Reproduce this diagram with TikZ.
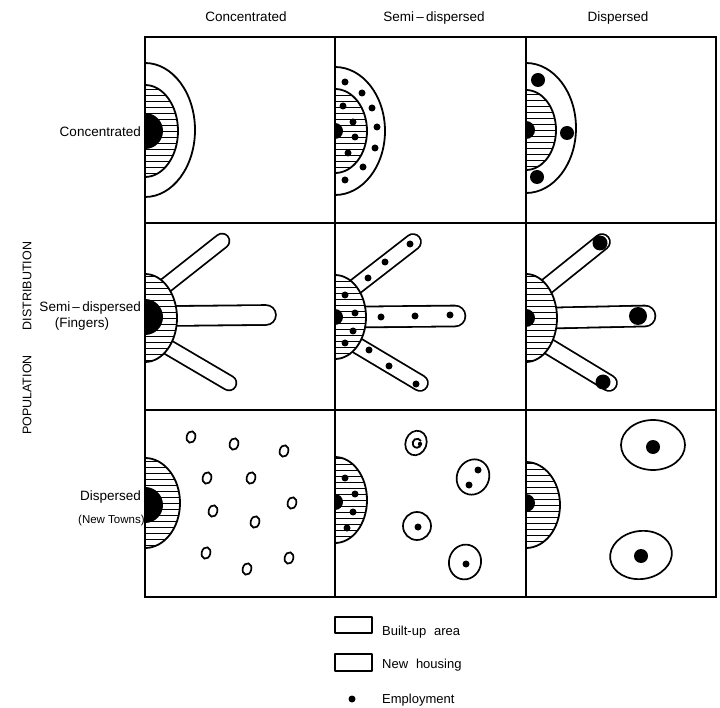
\documentclass[tikz,border=0pt]{standalone}
\usepackage{fontspec}
\setmainfont{Liberation Sans}
\newcommand\HatchHalf[4]{%
  \begin{scope}
    \clip (#1,#2-#4) arc[start angle=-90,end angle=90,x radius=#3,y radius=#4] -- cycle;
    \fill[white] (#1,#2-#4) rectangle (#1+#3,#2+#4);
    \foreach \hy in {-48,-42,...,48} \draw[hatchln] ({#1},{#2+\hy}) -- ({#1+#3},{#2+\hy});
  \end{scope}
  \draw[outl] (#1,#2-#4) arc[start angle=-90,end angle=90,x radius=#3,y radius=#4];}
\newcommand\CoreHalf[3]{\fill (#1,#2-#3) arc[start angle=-90,end angle=90,radius=#3] -- cycle;}
\newcommand\RingHalf[4]{\draw[outl,fill=white] (#1,#2-#4) arc[start angle=-90,end angle=90,x radius=#3,y radius=#4];}
\newcommand\Finger[4]{%
  \draw[line width=#4pt,line cap=round] #1 -- #2;
  \draw[white,line width=#3pt,line cap=round] #1 -- #2;}
\begin{document}
\begin{tikzpicture}[x=1pt,y=-1pt,
  outl/.style={line width=1.8pt,line join=round},
  hatchln/.style={line width=0.7pt},
  gridln/.style={line width=1.8pt},
  lbl/.style={font=\fontsize{13.5}{15}\selectfont,inner sep=0pt},
  leg/.style={font=\fontsize{13}{15}\selectfont,inner sep=0pt},
  town/.style={line width=1.7pt}]
\useasboundingbox[fill=white] (0,0) rectangle (720,708);

% ---------- row 1 ----------
\RingHalf{145}{130}{50}{67}
\HatchHalf{145}{131}{33}{46}
\CoreHalf{145}{131}{18}

\RingHalf{335}{131}{50}{64}
\HatchHalf{335}{131}{32}{42}
\CoreHalf{335}{131}{8}
\foreach \p in {(345,82),(362,93),(372,108),(377,127),(375,148),(363,167),(345,180),
                (343,106),(353,122),(355,137),(348,153)}
  \fill \p circle[radius=3.5];

\RingHalf{526}{128}{50}{65}
\HatchHalf{526}{130}{30}{40}
\CoreHalf{526}{130}{9}
\foreach \p in {(538,80),(567,133),(537,177)}
  \fill \p circle[radius=7];

% ---------- row 2 ----------
\Finger{(165,286)}{(222,241)}{13}{16.6}
\Finger{(170,316)}{(266,315)}{18}{21.6}
\Finger{(166,346)}{(229,383)}{13}{16.6}
\HatchHalf{145}{318}{32}{44}
\CoreHalf{145}{317}{18}

\Finger{(355,287)}{(413,242)}{14}{17.6}
\Finger{(360,317)}{(455,316)}{19}{22.6}
\Finger{(358,346)}{(420,383)}{14}{17.6}
\HatchHalf{335}{317}{31}{42}
\CoreHalf{335}{317}{8}
\foreach \p in {(410,244),(385,262),(368,278),(381,317),(415,316),(450,315),
                (369,350),(389,366),(416,384),
                (345,295),(355,313),(353,331),(345,343)}
  \fill \p circle[radius=3.5];

\Finger{(546,287)}{(602,242)}{14}{17.6}
\Finger{(552,318)}{(645,316)}{19}{22.6}
\Finger{(548,346)}{(609,383)}{14}{17.6}
\HatchHalf{526}{318}{31}{44}
\CoreHalf{526}{318}{9}
\fill (600,243) circle[radius=7.5];
\fill (638,316) circle[radius=9];
\fill (603,382) circle[radius=7.5];

% ---------- row 3 ----------
\HatchHalf{145}{503}{35}{45}
\CoreHalf{145}{505}{18}
\foreach \p in {(191,437),(234,444),(284,451),(207,478),(251,478),(292,503),
                (213,511),(255,522),(206,553),(289,558),(247,569)}
  \draw[town] \p ellipse[x radius=4.3,y radius=5.8,rotate=-15];

\HatchHalf{335}{500}{32}{43}
\CoreHalf{335}{502}{8}
\foreach \p in {(345,478),(355,494),(353,512),(347,528)}
  \fill \p circle[radius=3.5];
\draw[town,rotate around={-20:(416,443)}] (416,443) ellipse[x radius=10.5,y radius=12.5];
\draw[line width=1.8pt] (421,441) arc[start angle=-30,end angle=-320,radius=4.5];
\fill (420,444) circle[radius=2.2];
\draw[town,rotate around={-25:(473,477)}] (473,477) ellipse[x radius=16,y radius=18];
\fill (478,470) circle[radius=3.5];
\fill (469,485) circle[radius=3.5];
\draw[town] (417,526) ellipse[x radius=14,y radius=14];
\fill (418,527) circle[radius=3.5];
\draw[town,rotate around={-15:(465,562)}] (465,562) ellipse[x radius=16,y radius=17.5];
\fill (466,564) circle[radius=3.5];

\HatchHalf{526}{505}{34}{43}
\CoreHalf{526}{503}{9}
\draw[town] (653,445) ellipse[x radius=32,y radius=25];
\fill (653,447) circle[radius=7];
\draw[town,rotate around={8:(641,555)}] (641,555) ellipse[x radius=31,y radius=24];
\fill (641,556) circle[radius=7];

% ---------- grid ----------
\draw[gridln] (145,37) rectangle (716,597);
\draw[gridln] (335,37) -- (335,597);
\draw[gridln] (526,37) -- (526,597);
\draw[gridln] (145,223) -- (716,223);
\draw[gridln] (145,410) -- (716,410);

% ---------- labels ----------
\node[lbl,anchor=base] (hc) at (246,22) {Concentrated};
\node[lbl,anchor=base] (hs) at (434,22) {Semi\,--\,dispersed};
\node[lbl,anchor=base] (hd) at (618,22) {Dispersed};

\node[lbl,anchor=base east] (rc) at (141,137) {Concentrated};
\node[lbl,anchor=base east] (rs) at (141,312) {Semi\,--\,dispersed};
\node[lbl,anchor=base] (rf) at (82,328) {(Fingers)};
\node[lbl,anchor=base east] (rd) at (141,500) {Dispersed};
\node[lbl,anchor=base west,font=\fontsize{11.5}{13}\selectfont] (rn) at (78,523) {(New Towns)};

\node[lbl,rotate=90,font=\fontsize{12.5}{14}\selectfont] (pop) at (27,395) {POPULATION};
\node[lbl,rotate=90,font=\fontsize{12.5}{14}\selectfont] (dis) at (27,286) {DISTRIBUTION};

% ---------- legend ----------
\draw[outl] (335,617) rectangle (372,633);
\draw[outl] (335,654) rectangle (372,671);
\fill (352,699) circle[radius=3.5];
\node[leg,anchor=base west] (lb) at (382,635) {Built-up\hspace{0.6em}area};
\node[leg,anchor=base west] (ln) at (382,668) {New\hspace{0.6em}housing};
\node[leg,anchor=base west] (le) at (382,703) {Employment};
\end{tikzpicture}
\end{document}
